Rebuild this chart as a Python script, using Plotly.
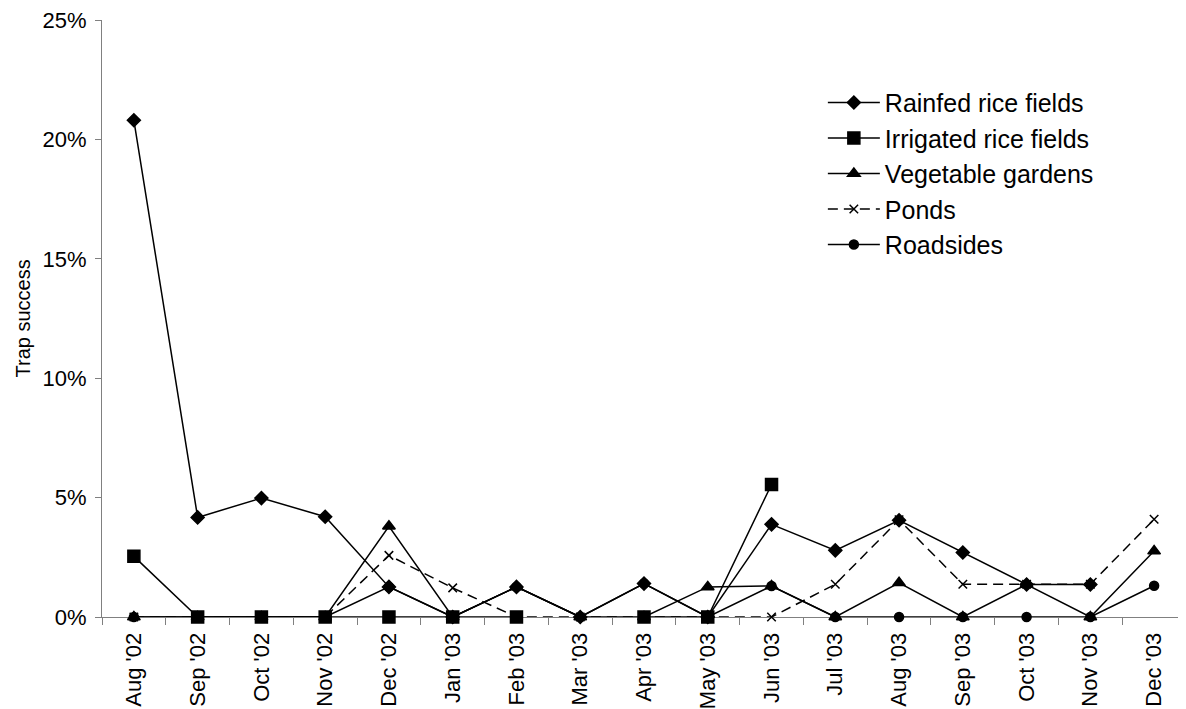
import plotly.graph_objects as go

months = ["Aug '02", "Sep '02", "Oct '02", "Nov '02", "Dec '02", "Jan '03", "Feb '03",
          "Mar '03", "Apr '03", "May '03", "Jun '03", "Jul '03", "Aug '03", "Sep '03",
          "Oct '03", "Nov '03", "Dec '03"]

rainfed = [0.2080, 0.0417, 0.0498, 0.0420, 0.0126, 0.0, 0.0126, 0.0, 0.0140, 0.0, 0.0388,
           0.0279, 0.0405, 0.0270, 0.0136, 0.0136, None]
irrigated = [0.0254, 0.0, 0.0, 0.0, 0.0, 0.0, 0.0, None, 0.0, 0.0, 0.0555,
             None, None, None, None, None, None]
vegetable = [0.0, 0.0, 0.0, 0.0, 0.0380, 0.0, 0.0126, 0.0, 0.0, 0.0126, 0.0130,
             0.0, 0.0143, 0.0, 0.0136, 0.0, 0.0276]
ponds = [0.0, 0.0, 0.0, 0.0, 0.0258, 0.0122, 0.0, 0.0, 0.0, 0.0, 0.0,
         0.0137, 0.0407, 0.0137, 0.0137, 0.0137, 0.0409]
roadsides = [0.0, 0.0, 0.0, 0.0, 0.0126, 0.0, 0.0126, 0.0, 0.0140, 0.0, 0.0130,
             0.0, 0.0, 0.0, 0.0, 0.0, 0.0131]

y_ticks = [0, 0.05, 0.10, 0.15, 0.20, 0.25]
y_title = "Trap success"

FONT = "Liberation Sans, Arial, sans-serif"

series = [
    ("Rainfed rice fields", rainfed, "diamond", 10, "solid"),
    ("Irrigated rice fields", irrigated, "square", 12, "solid"),
    ("Vegetable gardens", vegetable, "triangle-up", 11, "solid"),
    ("Ponds", ponds, "x-thin-open", 8.5, "10px,6px"),
    ("Roadsides", roadsides, "circle", 9, "solid"),
]

fig = go.Figure()
for name, vals, sym, size, dash in series:
    fig.add_trace(go.Scatter(
        x=months, y=vals, name=name, mode="lines+markers",
        line=dict(color="black", width=1.5, dash=dash),
        marker=dict(symbol=sym, size=size, color="black",
                    line=dict(color="black", width=1.5)),
        connectgaps=False, cliponaxis=False,
    ))

fig.update_layout(
    width=1178, height=701,
    margin=dict(l=94, r=0, t=12, b=92, autoexpand=False),
    paper_bgcolor="white", plot_bgcolor="white",
    font=dict(family=FONT, size=22, color="black"),
    showlegend=True,
    legend=dict(x=0.665, y=0.9, xanchor="left", yanchor="top",
                bgcolor="rgba(0,0,0,0)", font=dict(size=25, family=FONT),
                tracegroupgap=0, itemwidth=52),
)
fig.add_annotation(
    text=y_title, xref="paper", yref="paper", x=-0.0738, y=0.5,
    xanchor="center", yanchor="middle", textangle=-90, showarrow=False,
    font=dict(size=20, family=FONT, color="black"),
)
fig.update_xaxes(
    type="category", range=[-0.5, 16.5], tickangle=-90,
    showline=True, linecolor="#808080", linewidth=1, layer="below traces",
    ticks="outside", ticklen=7, tickcolor="#808080", tickson="boundaries",
    ticklabelstandoff=6, ticklabeloverflow="allow",
    showgrid=False, zeroline=False, tickfont=dict(size=22), automargin=False,
)
fig.update_yaxes(
    range=[0, 0.25], tickvals=y_ticks, tickformat=".0%",
    showline=True, linecolor="#808080", linewidth=1, layer="below traces",
    ticks="outside", ticklen=6, tickcolor="#808080", ticklabelstandoff=4,
    ticklabeloverflow="allow",
    showgrid=False, zeroline=False, tickfont=dict(size=22), automargin=False,
)

fig.write_html("out.html")
